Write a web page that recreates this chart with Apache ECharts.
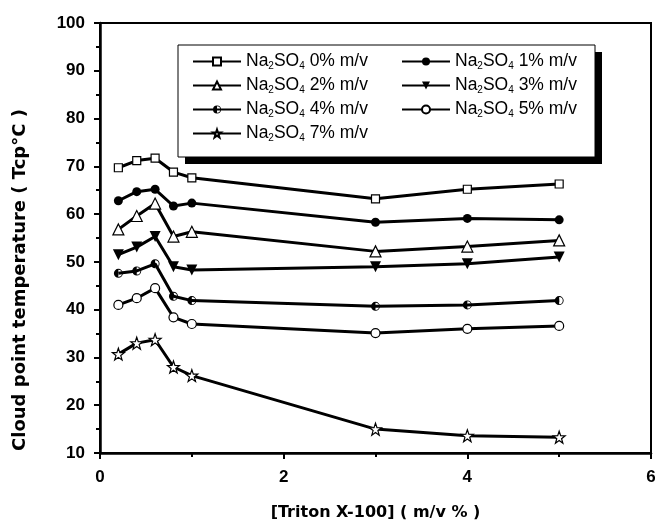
<!DOCTYPE html>
<html>
<head>
<meta charset="utf-8">
<script src="https://cdn.jsdelivr.net/npm/echarts@6/dist/echarts.min.js"></script>
<style>
html, body { margin: 0; padding: 0; background: #fff; }
#chart { width: 655px; height: 523px; }
</style>
</head>
<body>
<div id="chart"></div>
<script>
// Triton X-100 concentration (m/v %)
var xVals = [0.2, 0.4, 0.6, 0.8, 1.0, 3, 4, 5];

// cloud point temperature (°C) for each Na2SO4 level
var na0 = [69.7, 71.2, 71.7, 68.8, 67.6, 63.2, 65.2, 66.3];
var na1 = [62.8, 64.7, 65.2, 61.7, 62.3, 58.3, 59.1, 58.8];
var na2 = [56.8, 59.6, 62.2, 55.3, 56.3, 52.2, 53.2, 54.5];
var na3 = [51.5, 53.1, 55.3, 49.0, 48.3, 49.0, 49.6, 51.0];
var na4 = [47.6, 48.1, 49.6, 42.8, 41.9, 40.7, 41.0, 41.9];
var na5 = [41.0, 42.4, 44.5, 38.4, 37.0, 35.1, 36.0, 36.6];
var na7 = [30.7, 33.0, 33.7, 28.0, 26.2, 15.0, 13.6, 13.3];

var names = ['Na2SO4 0% m/v', 'Na2SO4 1% m/v', 'Na2SO4 2% m/v', 'Na2SO4 3% m/v',
             'Na2SO4 4% m/v', 'Na2SO4 5% m/v', 'Na2SO4 7% m/v'];
var xTicks = [0, 2, 4, 6];
var yTicks = [10, 20, 30, 40, 50, 60, 70, 80, 90, 100];

var FONT = '"Liberation Sans", Arial, sans-serif';
var WIDE = '"DejaVu Sans", sans-serif';
var starPath = 'path://M0 -10 L2.35 -3.24 L9.51 -3.09 L3.8 1.24 L5.88 8.09 L0 4 L-5.88 8.09 L-3.8 1.24 L-9.51 -3.09 L-2.35 -3.24 Z';
var halfCircle = 'path://M0 10 A10 10 0 1 1 20 10 A10 10 0 1 1 0 10 Z M2 10 A8 8 0 1 0 18 10 A8 8 0 1 0 2 10 Z M10 2 A8 8 0 0 0 10 18 Z';

function pairs(ys) {
    return xVals.map(function (x, i) { return [x, ys[i]]; });
}

var hollow = { color: '#fff', borderColor: '#000', borderWidth: 1.2 };
var filled = { color: '#000', borderColor: '#000', borderWidth: 0 };

function line(name, ys, symbol, size, style, rotate) {
    return {
        name: name,
        type: 'line',
        data: pairs(ys),
        symbol: symbol,
        symbolSize: size,
        symbolRotate: rotate || 0,
        showAllSymbol: true,
        lineStyle: { color: '#000', width: 3 },
        itemStyle: style,
        emphasis: { disabled: true }
    };
}

var myChart = echarts.init(document.getElementById('chart'));

var option = {
    animation: false,
    backgroundColor: '#fff',
    grid: {
        left: 100, right: 4, top: 23, bottom: 70,
        outerBoundsMode: 'none',
        show: true, borderColor: '#000', borderWidth: 2
    },
    // legend frame with its solid drop shadow
    graphic: [
        { type: 'rect', z: 5, shape: { x: 185, y: 52, width: 417, height: 112 }, style: { fill: '#000' } },
        { type: 'rect', z: 5, shape: { x: 178, y: 45, width: 417, height: 112 }, style: { fill: '#fff', stroke: '#000', lineWidth: 1 } }
    ],
    legend: {
        z: 10,
        left: 192, top: 52,
        width: 420,
        padding: 0,
        itemWidth: 48, itemHeight: 10,
        itemGap: 5,
        data: names,
        formatter: function (n) { return n.replace('Na2SO4', 'Na{s|2}SO{s|4}'); },
        textStyle: {
            fontFamily: FONT, fontSize: 17.5, color: '#000', width: 150, lineHeight: 19,
            rich: { s: { fontFamily: FONT, fontSize: 10, verticalAlign: 'bottom', lineHeight: 19 } }
        }
    },
    xAxis: {
        type: 'value',
        min: xTicks[0], max: xTicks[xTicks.length - 1], interval: 2,
        name: '[Triton X-100] ( m/v % )',
        nameLocation: 'middle', nameGap: 52,
        nameTextStyle: { fontFamily: WIDE, fontSize: 16, fontWeight: 'bold', color: '#000' },
        axisLine: { lineStyle: { color: '#000', width: 2.5 } },
        axisTick: { inside: false, length: 6, lineStyle: { color: '#000', width: 2 } },
        minorTick: { show: true, splitNumber: 2, length: 4, lineStyle: { color: '#000', width: 2 } },
        splitLine: { show: false },
        axisLabel: { margin: 16, fontFamily: FONT, fontSize: 17, fontWeight: 'bold', color: '#000' }
    },
    yAxis: {
        type: 'value',
        min: yTicks[0], max: yTicks[yTicks.length - 1], interval: 10,
        name: 'Cloud point temperature ( Tcp°C )',
        nameLocation: 'middle', nameGap: 71,
        nameTextStyle: { fontFamily: WIDE, fontSize: 18, fontWeight: 'bold', color: '#000', padding: [0, 84, 0, 0] },
        axisLine: { lineStyle: { color: '#000', width: 2.5 } },
        axisTick: { inside: false, length: 6, lineStyle: { color: '#000', width: 2 } },
        minorTick: { show: true, splitNumber: 2, length: 4, lineStyle: { color: '#000', width: 2 } },
        splitLine: { show: false },
        axisLabel: { margin: 15, fontFamily: FONT, fontSize: 17, fontWeight: 'bold', color: '#000' }
    },
    series: [
        line(names[0], na0, 'rect', 8, hollow),
        line(names[1], na1, 'circle', 9, filled),
        line(names[2], na2, 'triangle', 11, hollow),
        line(names[3], na3, 'triangle', 11, filled, 180),
        line(names[4], na4, halfCircle, 9, filled),
        line(names[5], na5, 'circle', 9, hollow),
        line(names[6], na7, starPath, 12, hollow)
    ]
};

myChart.setOption(option);
</script>
</body>
</html>
